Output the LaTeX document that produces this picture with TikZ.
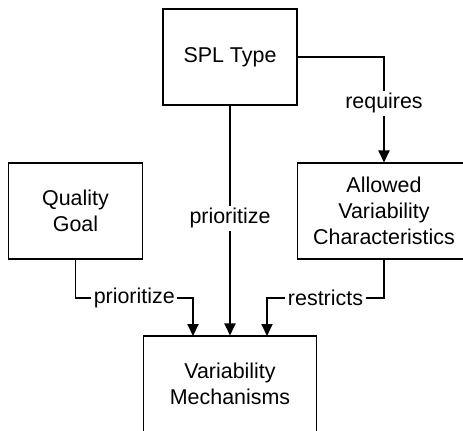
\documentclass[tikz,border=0pt]{standalone}
\usepackage{fontspec}
\setmainfont{Liberation Sans}
\usetikzlibrary{arrows.meta}

\tikzset{
  box/.style={draw,line width=0.6pt,minimum height=1.92cm,align=center,font=\fontsize{12.2}{14.8}\selectfont},
  narrowbox/.style={box,minimum width=2.68cm},
  widebox/.style={box,minimum width=3.46cm},
  link/.style={line width=1.1pt,-{Triangle[length=0.24cm,width=0.22cm]}},
  lbl/.style={fill=white,inner sep=1.5pt,font=\fontsize{12.2}{14.8}\selectfont}
}

\begin{document}
\begin{tikzpicture}[x=0.02cm,y=-0.02cm]
\useasboundingbox (0,0) rectangle (463,430);
\clip (0,0) rectangle (463,430);
\node[narrowbox] (spl) at (230,57) {SPL Type};
\node[narrowbox] (qg) at (75.5,211) {Quality\\Goal};
\node[widebox] (avc) at (384,211) {Allowed\\Variability\\Characteristics};
\node[widebox] (vm) at (230,384) {Variability\\Mechanisms};
\coordinate (bend) at (0,298);
\coordinate (inl) at (193,336);
\coordinate (inr) at (267,336);

\draw[link] (spl.east) -| node[lbl,pos=0.72] {requires} (avc.north);
\draw[link] (spl.south) -- node[lbl,pos=0.49] {prioritize} (vm.north);
\draw[link] (qg.south) |- node[lbl,pos=0.75] {prioritize} (bend -| inl) -- (inl);
\draw[link] (avc.south) |- node[lbl,pos=0.75] {restricts} (bend -| inr) -- (inr);
\end{tikzpicture}
\end{document}
